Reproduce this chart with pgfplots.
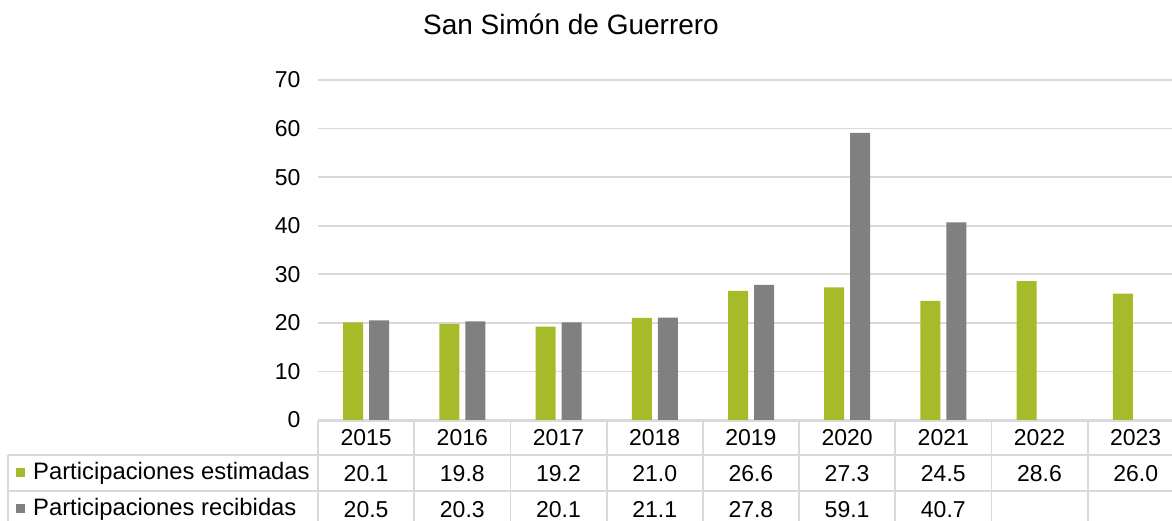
\documentclass[border=0pt]{standalone}
\usepackage{pgfplots}
\pgfplotsset{compat=1.18}
\usepackage{fontspec}
\setmainfont{Liberation Sans}
\definecolor{estim}{HTML}{A7BA2A}
\definecolor{recib}{HTML}{808080}
\definecolor{gridc}{HTML}{D9D9D9}
\newcommand{\tf}{\fontsize{23}{27}\selectfont}
\begin{document}
\begin{tikzpicture}[x=1pt,y=1pt]
% picture in pixel units, y measured up from the bottom edge (521 px high)
\useasboundingbox (0,0) rectangle (1172,521);
\clip (0,0) rectangle (1172,521);
\node[font=\fontsize{28}{32}\selectfont, anchor=base] at (571,486) {San Simón de Guerrero};
\begin{axis}[anchor=south west, at={(318pt,101pt)}, scale only axis,
  width=866pt, height=340pt,
  xmin=0.5, xmax=9.5, ymin=0, ymax=70, ytick={0,10,...,70},
  xtick=\empty, axis line style={draw=none}, major tick style={draw=none},
  ymajorgrids, grid style={gridc, line width=1.8pt},
  /pgf/number format/assume math mode=true,
  yticklabel style={font=\tf, xshift=-14pt},
  ybar=6pt, bar width=20pt, clip=false]
\addplot[fill=estim, draw=none] coordinates {
(1,20.1) (2,19.8) (3,19.2) (4,21.0) (5,26.6) (6,27.3) (7,24.5) (8,28.6) (9,26.0)};
\addplot[fill=recib, draw=none] coordinates {
(1,20.5) (2,20.3) (3,20.1) (4,21.1) (5,27.8) (6,59.1) (7,40.7)};
\end{axis}
% data table under the plot
\begin{scope}[gridc, line width=1.8pt]
\draw (318,100) -- (1190,100);
\draw (8,66) -- (1190,66);
\draw (8,30) -- (1190,30);
\draw (8,66) -- (8,-10);
\foreach \k in {0,...,8} \draw ({318+96.2*\k},100) -- ({318+96.2*\k},-10);
\end{scope}
\fill[estim] (16,44) rectangle (25,53);
\fill[recib] (16,8) rectangle (25,17);
\node[font=\fontsize{23.8}{27}\selectfont, anchor=west, inner sep=0] at (33,48) {Participaciones estimadas};
\node[font=\fontsize{23.8}{27}\selectfont, anchor=west, inner sep=0] at (33,12) {Participaciones recibidas};
\foreach \y [count=\i from 0] in {2015,2016,2017,2018,2019,2020,2021,2022,2023}
  \node[font=\tf] at ({318+96.2*(\i+0.5)},83.5) {\y};
\foreach \v [count=\i from 0] in {20.1,19.8,19.2,21.0,26.6,27.3,24.5,28.6,26.0}
  \node[font=\tf] at ({318+96.2*(\i+0.5)},47.5) {\v};
\foreach \v [count=\i from 0] in {20.5,20.3,20.1,21.1,27.8,59.1,40.7}
  \node[font=\tf] at ({318+96.2*(\i+0.5)},11.5) {\v};
\end{tikzpicture}
\end{document}
